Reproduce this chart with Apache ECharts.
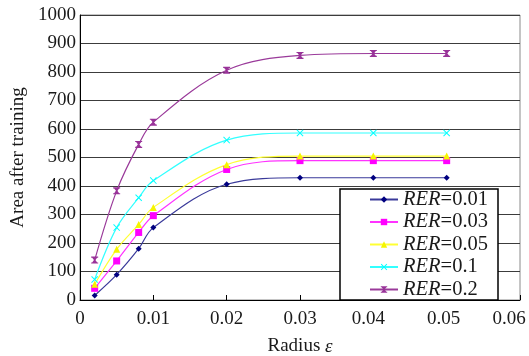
<!DOCTYPE html>
<html>
<head>
<meta charset="utf-8">
<script src="https://cdn.jsdelivr.net/npm/echarts@6/dist/echarts.min.js"></script>
<style>html,body{margin:0;padding:0;background:#fff;}#c{width:529px;height:356px;}</style>
</head>
<body>
<div id="c"></div>
<script>
const xValues = [0.002, 0.005, 0.008, 0.01, 0.02, 0.03, 0.04, 0.05];
const seriesNames = ['RER=0.01', 'RER=0.03', 'RER=0.05', 'RER=0.1', 'RER=0.2'];
const rer001 = [16, 89, 180, 254, 406, 429, 429, 429];
const rer003 = [41, 137, 237, 296, 458, 489, 489, 489];
const rer005 = [55, 178, 265, 325, 475, 505, 505, 505];
const rer01 = [72, 254, 359, 419, 561, 586, 586, 586];
const rer02 = [140, 383, 546, 624, 806, 858, 865, 865];
const xTicks = [0, 0.01, 0.02, 0.03, 0.04, 0.05, 0.06];
const yTicks = [0, 100, 200, 300, 400, 500, 600, 700, 800, 900, 1000];

const seriesValues = [rer001, rer003, rer005, rer01, rer02];
const colors = ['#000080', '#ff00ff', '#f5f500', '#00ffff', '#993399'];
const lineColors = ['#3a3a9a', '#ff33ff', '#ffff33', '#33ffff', '#9a3a9a'];
const xPath = 'path://M0,1 L1,0 L5,4 L9,0 L10,1 L6,5 L10,9 L9,10 L5,6 L1,10 L0,9 L4,5 Z';
const hourPath = 'path://M0,0 H10 V1.6 H8.6 L6,5 L8.6,8.4 H10 V10 H0 V8.4 H1.4 L4,5 L1.4,1.6 H0 Z';
const symbols = ['diamond', 'rect', 'triangle', xPath, hourPath];
const sizes = [6, 7, 7, 7, 7];
const font = 'Liberation Serif';
const labelStyle = {fontFamily: font, fontSize: 19, color: '#1a1a1a'};
const legendStyle = {fontFamily: font, fontSize: 20.5, color: '#1a1a1a', lineHeight: 20};

const chart = echarts.init(document.getElementById('c'), null, {renderer: 'canvas'});
chart.setOption({
  animation: false,
  backgroundColor: '#fff',
  grid: {left: 80, right: 9, top: 15, bottom: 56, show: true, borderColor: '#8a8a8a', borderWidth: 1,
         outerBoundsMode: 'none', containLabel: false},
  xAxis: {
    type: 'value', min: 0, max: 0.06, interval: 0.01,
    name: 'Radius {e|ε}', nameLocation: 'middle', nameGap: 37,
    nameTextStyle: Object.assign({}, labelStyle, {rich: {e: Object.assign({fontStyle: 'italic'}, labelStyle)}}),
    axisLine: {show: true, lineStyle: {color: '#000', width: 1}},
    axisTick: {show: true, inside: true, length: 5, lineStyle: {color: '#000'}},
    splitLine: {show: false},
    axisLabel: Object.assign({}, labelStyle, {margin: 10, showMaxLabel: true,
      rich: {
        a: Object.assign({}, labelStyle),
        b: Object.assign({padding: [0, 10, 0, 0]}, labelStyle),
        c: Object.assign({padding: [0, 6, 0, 0]}, labelStyle),
        d: Object.assign({padding: [0, 22, 0, 0]}, labelStyle)
      },
      formatter: v => {
        const i = xTicks.findIndex(k => Math.abs(k - v) < 1e-9);
        if (i < 0) return '';
        const t = i === 0 ? '0' : xTicks[i].toFixed(2);
        const key = i === 4 ? 'b' : i === 5 ? 'c' : i === 6 ? 'd' : 'a';
        return '{' + key + '|' + t + '}';
      }})
  },
  yAxis: {
    type: 'value', min: 0, max: 1000, interval: 100,
    name: 'Area after training', nameLocation: 'middle', nameGap: 52,
    nameTextStyle: labelStyle,
    axisLine: {show: true, lineStyle: {color: '#000', width: 1}},
    axisTick: {show: false},
    splitLine: {show: true, lineStyle: {color: '#3c3c3c', width: 1}},
    axisLabel: Object.assign({}, labelStyle, {margin: 4,
      formatter: v => { const t = yTicks.find(k => k === v); return t !== undefined ? String(t) : ''; }})
  },
  legend: {
    orient: 'vertical', left: 340, top: 189,
    padding: [0, 10, 0, 29], itemGap: 1.5, itemWidth: 28, itemHeight: 8,
    backgroundColor: '#fff', borderColor: '#000', borderWidth: 1.5,
    data: seriesNames,
    formatter: n => '{i|RER}{n|' + n.slice(3) + '}',
    textStyle: Object.assign({}, legendStyle, {
      rich: {i: Object.assign({fontStyle: 'italic'}, legendStyle),
             n: Object.assign({}, legendStyle)}})
  },
  series: seriesValues.map((vals, i) => ({
    name: seriesNames[i], type: 'line', smooth: 0.35,
    data: xValues.map((x, j) => [x, vals[j]]),
    symbol: symbols[i], symbolSize: sizes[i],
    lineStyle: {color: lineColors[i], width: 1.2},
    itemStyle: {color: colors[i]},
    z: 3
  }))
});
</script>
</body>
</html>
